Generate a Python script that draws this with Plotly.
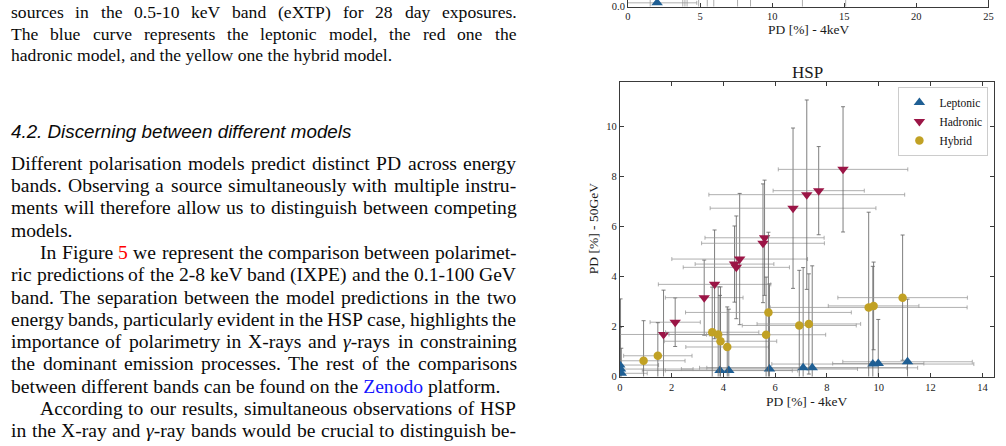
import plotly.graph_objects as go

# ---------------- HSP panel data (PD at 4 keV vs PD at 50 GeV) ----------------
lep_x = [0.00, 0.03, 0.06, 3.87, 4.21, 5.78, 7.08, 7.43, 9.77, 9.98, 11.11]
lep_y = [0.46, 0.30, 0.13, 0.24, 0.24, 0.30, 0.35, 0.35, 0.50, 0.52, 0.59]
lep_err = [1.5, 2.8, 1.0, 3.0, 2.45, 3.4, 4.0, 4.07, 3.9, 1.76, 2.5]

had_x = [1.69, 2.14, 3.26, 3.66, 4.43, 4.50, 4.63, 5.53, 5.59, 6.69, 7.22, 7.68, 8.62]
had_y = [1.68, 2.17, 3.15, 3.68, 4.49, 4.36, 4.69, 5.32, 5.54, 6.72, 7.26, 7.42, 8.27]
had_err = [1.77, 0.97, 1.5, 2.17, 1.52, 2.05, 2.62, 2.37, 2.3, 3.2, 3.78, 1.76, 2.5]

hyb_x = [0.92, 1.47, 3.57, 3.80, 3.89, 4.15, 5.65, 5.74, 6.93, 7.30, 9.61, 9.80, 10.92]
hyb_y = [0.63, 0.83, 1.77, 1.68, 1.41, 1.18, 1.67, 2.56, 2.04, 2.10, 2.76, 2.82, 3.15]
hyb_err = [1.6, 1.32, 1.8, 1.9, 2.17, 1.6, 2.3, 3.2, 2.2, 2.0, 3.8, 1.75, 2.5]

x_ticks = [0, 2, 4, 6, 8, 10, 12, 14]
y_ticks = [0, 2, 4, 6, 8, 10]

# ---------------- upper panel (only its bottom strip is visible) ----------------
top_lep_x = [2.02]
top_lep_y = [0.04]
top_lep_err = [2.75]
top_bar_x = [1.54, 3.80, 3.95, 4.10, 4.90, 5.50, 5.95, 7.60, 8.50, 12.10, 15.10]
top_bar_y = [0.60, 0.70, 0.65, 0.80, 0.55, 0.75, 0.90, 0.85, 1.00, 0.70, 1.10]
top_bar_err = [0.65, 0.75, 0.70, 0.85, 0.60, 0.80, 0.95, 0.90, 1.05, 0.75, 1.15]
top_x_ticks = [0, 5, 10, 15, 20, 25]

# ---------------- page text ----------------
caption_lines = [
    ("sources in the 0.5-10 keV band (eXTP) for 28 day exposures.", True),
    ("The blue curve represents the leptonic model, the red one the", True),
    ("hadronic model, and the yellow one the hybrid model.", False),
]
heading = "4.2. Discerning between different models"
body_lines = [
    ("Different polarisation models predict distinct PD across energy", True, False),
    ("bands. Observing a source simultaneously with multiple instru-", True, False),
    ("ments will therefore allow us to distinguish between competing", True, False),
    ("models.", False, False),
    ("In Figure 5 we represent the comparison between polarimet-", True, True),
    ("ric predictions of the 2-8 keV band (IXPE) and the 0.1-100 GeV", True, False),
    ("band. The separation between the model predictions in the two", True, False),
    ("energy bands, particularly evident in the HSP case, highlights the", True, False),
    ("importance of polarimetry in X-rays and γ-rays in constraining", True, False),
    ("the dominant emission processes. The rest of the comparisons", True, False),
    ("between different bands can be found on the Zenodo platform.", False, False),
    ("According to our results, simultaneous observations of HSP", True, True),
    ("in the X-ray and γ-ray bands would be crucial to distinguish be-", True, False),
]

W, H = 1006, 446
SERIF = "Liberation Serif, Times New Roman, serif"

# Times-compatible advance widths (per 1000 em)
TW = {' ': 250, 'a': 444, 'b': 500, 'c': 444, 'd': 500, 'e': 444, 'f': 333, 'g': 500, 'h': 500,
      'i': 278, 'j': 278, 'k': 500, 'l': 278, 'm': 778, 'n': 500, 'o': 500, 'p': 500, 'q': 500,
      'r': 333, 's': 389, 't': 278, 'u': 500, 'v': 500, 'w': 722, 'x': 500, 'y': 500, 'z': 444,
      'A': 722, 'B': 667, 'C': 667, 'D': 722, 'E': 611, 'F': 556, 'G': 722, 'H': 722, 'I': 333,
      'J': 389, 'K': 722, 'L': 611, 'M': 889, 'N': 722, 'O': 722, 'P': 556, 'Q': 722, 'R': 667,
      'S': 556, 'T': 611, 'U': 722, 'V': 722, 'W': 944, 'X': 722, 'Y': 722, 'Z': 611,
      '.': 250, ',': 250, '-': 333, '(': 333, ')': 333, '%': 833, ':': 278, 'γ': 430}
for d in "0123456789":
    TW[d] = 500


def tw(s, size):
    return sum(TW.get(c, 500) for c in s) / 1000.0 * size


def styled(word):
    if word == "5":
        return "<span style='color:#ff0000'>5</span>"
    if word == "Zenodo":
        return "<span style='color:#1414ff'>Zenodo</span>"
    if "γ" in word:
        return word.replace("γ", "<i>γ</i>")
    return word


annotations = []


def add_text(txt, px, py, size, color="#0a0a0a", family=SERIF, anchor="left", angle=0):
    annotations.append(dict(text=txt, x=px / W, y=1 - py / H, xref="paper", yref="paper",
                            xanchor=anchor, yanchor="middle", showarrow=False, borderpad=0,
                            textangle=angle, font=dict(family=family, size=size, color=color)))


def add_line(line, py, size, justify, x0=7.0, x1=516.0):
    words = line.split(" ")
    if not justify or len(words) < 2:
        add_text(" ".join(styled(w) for w in words), x0, py, size)
        return
    widths = [tw(w, size) for w in words]
    gap = (x1 - x0 - sum(widths)) / (len(words) - 1)
    x = x0
    for w, wd in zip(words, widths):
        add_text(styled(w), x, py, size)
        x += wd + gap


for i, (ln, j) in enumerate(caption_lines):
    add_line(ln, 12.5 + i * 21.5, 17.6, j)

add_text("<i>" + heading + "</i>", 7, 133, 18.8, family="Liberation Sans, Arial, sans-serif")

for i, (ln, j, ind) in enumerate(body_lines):
    add_line(ln, 165.5 + i * 22.6, 19.6, j, x0=36.0 if ind else 7.0)

# chart texts
CHART_TXT = "#1a1a1a"
add_text("HSP", 810.5, 73, 17, color=CHART_TXT, anchor="center")
add_text("PD [%] - 4keV", 810, 407, 13.5, color=CHART_TXT, anchor="center")
add_text("PD [%] - 50GeV", 596, 232, 13.5, color=CHART_TXT, anchor="center", angle=-90)
add_text("PD [%] - 4keV", 812, 30, 13.5, color=CHART_TXT, anchor="center")

# ---------------- figure ----------------
LEP_C = "#1f5f94"
HAD_C = "#9b1546"
HYB_C = "#c1a124"
EX_C = "rgba(150,150,150,0.75)"
EY_C = "rgba(105,105,105,0.85)"

fig = go.Figure()


def add_series(x, y, err, name, color, symbol, size, xa="x", ya="y", legend=True):
    fig.add_trace(go.Scatter(
        x=x, y=y, mode="markers", name=name, xaxis=xa, yaxis=ya, showlegend=legend,
        marker=dict(color=color, symbol=symbol, size=size, line=dict(width=0)),
        error_x=dict(type="data", array=err, color=EX_C, thickness=1, width=2),
        error_y=dict(type="data", array=err, color=EY_C, thickness=1, width=2),
    ))


add_series(lep_x, lep_y, lep_err, "Leptonic", LEP_C, "triangle-up", 10)
add_series(had_x, had_y, had_err, "Hadronic", HAD_C, "triangle-down", 10)
add_series(hyb_x, hyb_y, hyb_err, "Hybrid", HYB_C, "circle", 8.5)

# upper panel strip
fig.add_trace(go.Scatter(
    x=top_bar_x, y=top_bar_y, mode="markers", xaxis="x2", yaxis="y2", showlegend=False,
    marker=dict(color=HYB_C, size=8),
    error_y=dict(type="data", array=top_bar_err, color="rgba(120,120,120,0.6)", thickness=1, width=2),
))
fig.add_trace(go.Scatter(
    x=top_lep_x, y=top_lep_y, mode="markers", xaxis="x2", yaxis="y2", showlegend=False,
    marker=dict(color=LEP_C, symbol="triangle-up", size=10),
    error_x=dict(type="data", array=top_lep_err, color=EX_C, thickness=1, width=2),
))

TICKFONT = dict(family=SERIF, size=10.5, color="#222")
AX_COMMON = dict(showgrid=False, zeroline=False, showline=True, linecolor="#3a3a3a", linewidth=1,
                 ticks="inside", ticklen=4, tickwidth=1, tickcolor="#3a3a3a", tickfont=TICKFONT)

fig.update_layout(
    width=W, height=H, margin=dict(l=0, r=0, t=0, b=0),
    paper_bgcolor="white", plot_bgcolor="white",
    showlegend=True,
    xaxis=dict(domain=[621.7 / W, 999 / W], range=[0, 14.45], tickvals=x_ticks, mirror="ticks",
               anchor="y", ticklabelstandoff=1, **AX_COMMON),
    yaxis=dict(domain=[1 - 381.7 / H, 1 - 83.3 / H], range=[0, 11.75], tickvals=y_ticks, mirror="ticks",
               anchor="x", **AX_COMMON),
    xaxis2=dict(domain=[630 / W, 993.3 / W], range=[0, 25], tickvals=top_x_ticks, mirror=False,
                anchor="y2", **AX_COMMON),
    yaxis2=dict(domain=[1 - 6.7 / H, 1], range=[0, 0.07], tickvals=[0], ticktext=["0.0"], mirror=True,
                anchor="x2", **AX_COMMON),
    legend=dict(x=993.3 / W, xanchor="right", y=1 - 88.3 / H, yanchor="top",
                bgcolor="white", bordercolor="#cccccc", borderwidth=1,
                font=dict(family=SERIF, size=11.5, color="#111"), tracegroupgap=0),
    annotations=annotations,
)

fig.write_html("out.html")
